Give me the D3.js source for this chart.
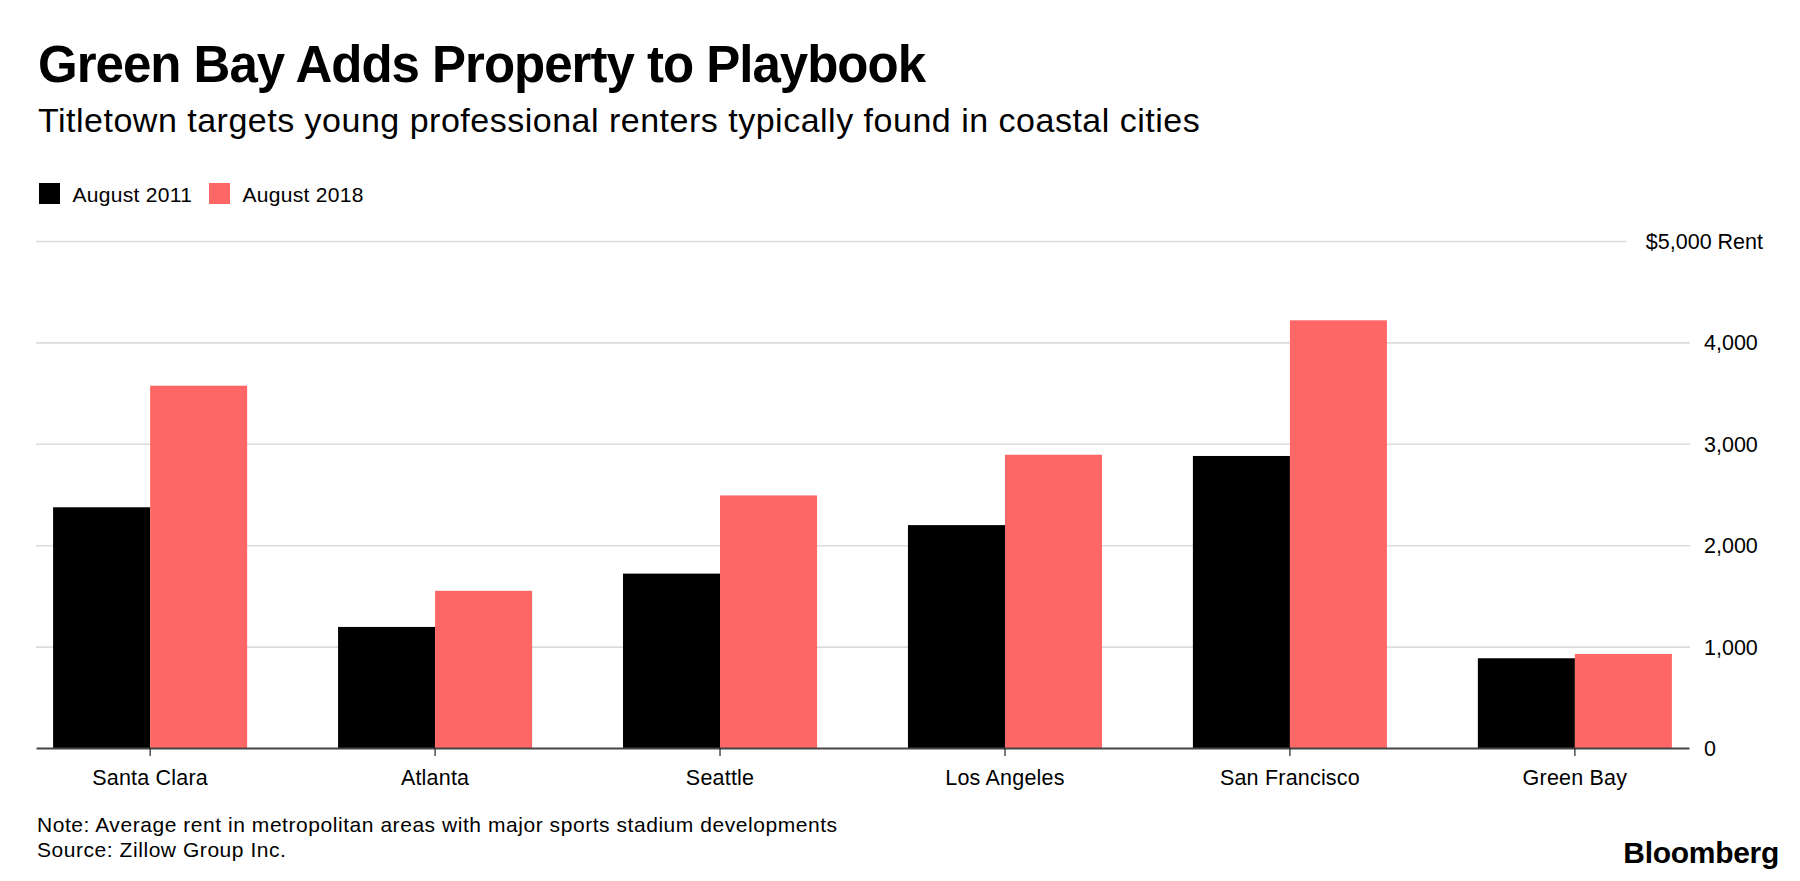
<!DOCTYPE html>
<html>
<head>
<meta charset="utf-8">
<script src="https://cdn.jsdelivr.net/npm/d3@7"></script>
<style>
  html, body { margin: 0; padding: 0; background: #fff; }
  svg { display: block; font-family: "Liberation Sans", Arial, Helvetica, sans-serif; }
</style>
</head>
<body>
<svg id="chart" width="1800" height="881"></svg>
<script>
const categories = ["Santa Clara", "Atlanta", "Seattle", "Los Angeles", "San Francisco", "Green Bay"];
const seriesNames = ["August 2011", "August 2018"];
const values2011 = [2374, 1194, 1720, 2198, 2880, 885];
const values2018 = [3573, 1550, 2491, 2892, 4218, 928];
const yTicks = [0, 1000, 2000, 3000, 4000, 5000];
const colors = ["#000000", "#ff6666"];

const data = categories.map((c, i) => ({ city: c, vals: [values2011[i], values2018[i]] }));

(function () {
const svg = d3.select("#chart");
const plotLeft = 36, plotRight = 1690, plotTop = 241, plotBottom = 748;

// Title & subtitle
svg.append("text").attr("x", 38).attr("y", 82)
  .attr("font-size", 51).attr("font-weight", "bold").attr("letter-spacing", -1.0)
  .attr("fill", "#000").text("Green Bay Adds Property to Playbook");
svg.append("text").attr("x", 38).attr("y", 131.5)
  .attr("font-size", 34).attr("letter-spacing", 0.5)
  .attr("fill", "#000").text("Titletown targets young professional renters typically found in coastal cities");

// Legend
const legendX = [39, 209];
seriesNames.forEach((s, i) => {
  svg.append("rect").attr("x", legendX[i]).attr("y", 183).attr("width", 21).attr("height", 21).attr("fill", colors[i]);
  svg.append("text").attr("x", legendX[i] + 33.5).attr("y", 201.5).attr("font-size", 21)
    .attr("letter-spacing", 0.3).attr("fill", "#000").text(s);
});

// Scales
const y = d3.scaleLinear().domain([0, 5000]).range([plotBottom, plotTop]);
const x0 = d3.scaleBand().domain(categories).range([plotLeft, 1689]).paddingInner(0.319).paddingOuter(0.06);
const x1 = d3.scaleBand().domain([0, 1]).range([0, x0.bandwidth()]).padding(0);

// Y axis (gridlines + labels on right)
const yAxis = d3.axisRight(y)
  .tickValues(yTicks)
  .tickSize(-(plotRight - plotLeft))
  .tickPadding(14)
  .tickFormat(d => d === 5000 ? "$5,000 Rent" : d3.format(",")(d));
const gy = svg.append("g").attr("transform", `translate(${plotRight},0)`).call(yAxis);
gy.select(".domain").remove();
gy.selectAll(".tick line").attr("stroke", "#dcdcdc").attr("stroke-width", 1.6);
gy.selectAll(".tick text").attr("font-size", 21.5).attr("fill", "#000")
  .attr("font-family", "'Liberation Sans', Arial, sans-serif").attr("dy", "0.35em");
gy.selectAll(".tick").filter(d => d === 0).select("line").remove();
const topTick = gy.selectAll(".tick").filter(d => d === 5000);
topTick.select("line").attr("x1", 1626 - plotRight);
topTick.select("text").attr("text-anchor", "end").attr("x", 1763 - plotRight);

// Bars
const groups = svg.append("g").selectAll("g").data(data).join("g")
  .attr("transform", d => `translate(${x0(d.city)},0)`);
groups.selectAll("rect").data(d => d.vals.map((v, i) => ({ v, i }))).join("rect")
  .attr("x", d => x1(d.i))
  .attr("width", x1.bandwidth())
  .attr("y", d => y(d.v))
  .attr("height", d => y(0) - y(d.v))
  .attr("fill", d => colors[d.i]);

// X axis
const xAxis = d3.axisBottom(x0).tickSizeInner(8).tickSizeOuter(0).tickPadding(14);
const gx = svg.append("g").attr("transform", `translate(0,${plotBottom})`).call(xAxis);
gx.select(".domain").attr("stroke", "#444").attr("stroke-width", 1.8);
gx.selectAll(".tick line").attr("stroke", "#222").attr("stroke-width", 1.2);
gx.selectAll(".tick text").attr("font-size", 21.5).attr("fill", "#000")
  .attr("letter-spacing", 0.2)
  .attr("font-family", "'Liberation Sans', Arial, sans-serif");

// Footer
svg.append("text").attr("x", 37).attr("y", 831.5).attr("font-size", 21).attr("letter-spacing", 0.55).attr("fill", "#000")
  .text("Note: Average rent in metropolitan areas with major sports stadium developments");
svg.append("text").attr("x", 37).attr("y", 856.5).attr("font-size", 21).attr("letter-spacing", 0.55).attr("fill", "#000")
  .text("Source: Zillow Group Inc.");
svg.append("text").attr("x", 1779).attr("y", 863).attr("text-anchor", "end")
  .attr("font-size", 30).attr("font-weight", "bold").attr("letter-spacing", -0.3)
  .attr("fill", "#000").text("Bloomberg");
})();
</script>
</body>
</html>
